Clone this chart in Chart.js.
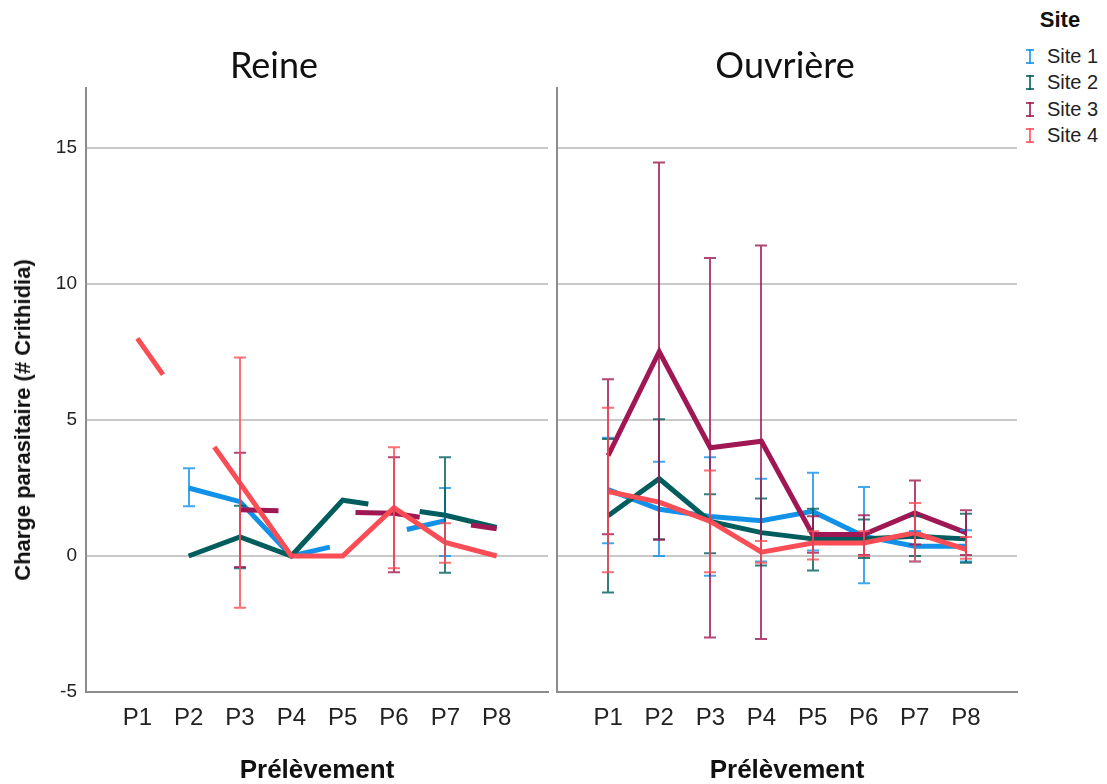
<!DOCTYPE html>
<html lang="fr">
<head>
<meta charset="utf-8">
<title>Charge parasitaire par prélèvement</title>
<script src="https://cdn.jsdelivr.net/npm/chart.js@4.4.1/dist/chart.umd.min.js"></script>
<style>
  html, body { margin: 0; padding: 0; background: #fff; }
  #wrap { position: relative; width: 1107px; height: 784px; overflow: hidden; font-family: "Liberation Sans", Arial, sans-serif; }
  #reine { position: absolute; left: 0; top: 0; }
  #ouvriere { position: absolute; left: 553px; top: 0; }
  .ytitle { position: absolute; left: 23px; top: 420px; transform: translate(-50%, -50%) rotate(-90deg); font-weight: bold; font-size: 22px; white-space: nowrap; color: #111; }
  .ltitle { position: absolute; left: 1060px; top: 20px; transform: translate(-50%, -50%); font-weight: bold; font-size: 22px; color: #111; }
  .litem { position: absolute; left: 1026px; height: 20px; font-size: 20px; line-height: 20px; color: #222; white-space: nowrap; }
  .litem .mk { position: absolute; left: 0; top: 3px; width: 8px; height: 15px; }
  .litem .mk::before { content: ""; position: absolute; left: 0; right: 0; top: 0; bottom: 0; border-top: 2px solid currentColor; border-bottom: 2px solid currentColor; }
  .litem .mk::after { content: ""; position: absolute; left: 3px; width: 2px; top: 0; bottom: 0; background: currentColor; }
  .litem span { position: absolute; left: 21px; top: 0; }
</style>
</head>
<body>
<div id="wrap">
  <canvas id="reine" width="553" height="784"></canvas>
  <canvas id="ouvriere" width="470" height="784"></canvas>
  <div class="ytitle">Charge parasitaire (# Crithidia)</div>
  <div class="ltitle">Site</div>
</div>
<script>
const categories = ["P1", "P2", "P3", "P4", "P5", "P6", "P7", "P8"];
const sites = ["Site 1", "Site 2", "Site 3", "Site 4"];
const siteColors = ["#1192e8", "#005d5d", "#9f1853", "#fa4d56"];
const errColors = ["rgba(17,146,232,0.8)", "rgba(0,93,93,0.8)", "rgba(159,24,83,0.8)", "rgba(250,77,86,0.8)"];
const yTicks = [-5, 0, 5, 10, 15];

// Reine : moyennes et intervalles (null = pas de donnée)
const reineSite1 = [null, 2.5, 2.0, 0, null, null, 1.3, null];
const reineSite1Low = [null, 1.83, null, null, null, null, 0.0, null];
const reineSite1High = [null, 3.23, null, null, null, null, 2.5, null];
const reineSite2 = [null, 0, 0.7, 0, 2.05, null, 1.5, 1.05];
const reineSite2Low = [null, null, -0.45, null, null, null, -0.62, null];
const reineSite2High = [null, null, 1.85, null, null, null, 3.63, null];
const reineSite3 = [null, null, 1.7, null, null, 1.57, null, 1.0];
const reineSite3Low = [null, null, -0.4, null, null, -0.6, null, null];
const reineSite3High = [null, null, 3.8, null, null, 3.63, null, null];
const reineSite4 = [8.0, null, 2.68, 0, 0, 1.78, 0.5, 0];
const reineSite4Low = [null, null, -1.9, null, null, -0.45, -0.25, null];
const reineSite4High = [null, null, 7.3, null, null, 4.0, 1.2, null];

// Ouvrière
const ouvSite1 = [2.44, 1.72, 1.45, 1.3, 1.64, 0.73, 0.36, 0.36];
const ouvSite1Low = [0.47, 0.0, -0.73, -0.2, 0.2, -1.0, -0.2, -0.2];
const ouvSite1High = [4.35, 3.47, 3.63, 2.84, 3.06, 2.54, 0.92, 0.95];
const ouvSite2 = [1.48, 2.84, 1.27, 0.86, 0.63, 0.63, 0.73, 0.63];
const ouvSite2Low = [-1.34, 0.62, 0.1, -0.35, -0.53, -0.07, 0.0, -0.25];
const ouvSite2High = [4.3, 5.03, 2.27, 2.11, 1.74, 1.34, 1.46, 1.55];
const ouvSite3 = [3.69, 7.51, 3.98, 4.22, 0.79, 0.79, 1.58, 0.86];
const ouvSite3Low = [0.8, 0.6, -3.0, -3.05, 0.12, 0.04, 0.42, 0.04];
const ouvSite3High = [6.5, 14.47, 10.96, 11.42, 1.46, 1.5, 2.78, 1.68];
const ouvSite4 = [2.37, 1.98, 1.27, 0.14, 0.48, 0.48, 0.85, 0.24];
const ouvSite4Low = [-0.6, null, -0.6, -0.25, -0.13, 0.0, -0.2, -0.1];
const ouvSite4High = [5.45, null, 3.14, 0.55, 0.91, 0.91, 1.95, 0.7];

const FONT = "'Liberation Sans', Arial, sans-serif";
const GRID = "#c9c9c9";
const AXIS = "#8c8c8c";

// SPSS style: across a missing category only the outer quarters of the link are drawn
function linePoints(means) {
  const pts = [];
  const idx = [];
  means.forEach((v, i) => { if (v !== null) idx.push(i); });
  idx.forEach((i, k) => {
    pts.push({ x: i + 1, y: means[i] });
    const next = idx[k + 1];
    if (next !== undefined && next - i > 1) {
      const span = next - i;
      const q = span / 4;
      const slope = (means[next] - means[i]) / span;
      pts.push({ x: i + 1 + q, y: means[i] + slope * q });
      pts.push({ x: i + 1 + span / 2, y: null });
      pts.push({ x: next + 1 - q, y: means[next] - slope * q });
    }
  });
  return pts;
}

const errorBars = {
  id: "errorBars",
  afterDatasetsDraw(chart) {
    const { ctx, scales: { x, y } } = chart;
    ctx.save();
    ctx.lineWidth = 2;
    chart.data.datasets.forEach(ds => {
      ctx.strokeStyle = ds.errColor;
      ds.errLow.forEach((lo, i) => {
        const hi = ds.errHigh[i];
        if (lo === null || hi === null) return;
        const px = Math.round(x.getPixelForValue(i + 1));
        const top = y.getPixelForValue(hi);
        const bot = y.getPixelForValue(lo);
        ctx.beginPath();
        ctx.moveTo(px, top); ctx.lineTo(px, bot);
        ctx.moveTo(px - 6, top); ctx.lineTo(px + 6, top);
        ctx.moveTo(px - 6, bot); ctx.lineTo(px + 6, bot);
        ctx.stroke();
      });
    });
    ctx.restore();
  }
};

function makeChart(id, title, means, lows, highs, showY) {
  const datasets = sites.map((s, k) => ({
    label: s,
    data: linePoints(means[k]),
    errLow: lows[k],
    errHigh: highs[k],
    errColor: errColors[k],
    borderColor: siteColors[k],
    borderWidth: 5,
    borderJoinStyle: "miter",
    borderCapStyle: "butt",
    pointRadius: 0,
    spanGaps: false,
    tension: 0,
    fill: false,
    order: sites.length - 1 - k
  }));

  new Chart(document.getElementById(id), {
    type: "line",
    data: { datasets },
    plugins: [errorBars],
    options: {
      responsive: false,
      animation: false,
      layout: { padding: { right: showY ? 5 : 6 } },
      plugins: {
        legend: { display: false },
        tooltip: { enabled: false },
        title: {
          display: true,
          text: title,
          color: "#111",
          font: { family: "Lato, 'Open Sans', sans-serif", size: 36, weight: "normal" },
          padding: { top: 45, bottom: 0 }
        }
      },
      scales: {
        x: {
          type: "linear",
          min: 0,
          max: 9,
          afterFit: scale => {
            scale.height = 92;
            scale.paddingLeft = 0;
            scale.paddingRight = 0;
          },
          grid: { display: false, drawTicks: false },
          border: { display: true, color: AXIS, width: 2 },
          ticks: {
            stepSize: 1,
            autoSkip: false,
            maxRotation: 0,
            padding: 12,
            color: "#222",
            font: { family: FONT, size: 24 },
            callback: v => categories[v - 1] || ""
          },
          title: {
            display: true,
            text: "Prélèvement",
            color: "#111",
            font: { family: FONT, size: 26, weight: "bold", lineHeight: 1 },
            padding: { top: 25, bottom: 0 }
          }
        },
        y: {
          min: -5,
          max: 17.2,
          afterFit: scale => { scale.width = showY ? 86 : 4; },
          afterBuildTicks: scale => { scale.ticks = yTicks.map(v => ({ value: v })); },
          border: { display: true, color: AXIS, width: 2 },
          grid: {
            drawTicks: false,
            lineWidth: 2,
            color: c => (c.tick && c.tick.value > -5 ? GRID : "rgba(0,0,0,0)")
          },
          ticks: {
            display: showY,
            padding: 9,
            color: "#222",
            font: { family: FONT, size: 19 }
          }
        }
      }
    }
  });
}

makeChart("reine", "Reine",
  [reineSite1, reineSite2, reineSite3, reineSite4],
  [reineSite1Low, reineSite2Low, reineSite3Low, reineSite4Low],
  [reineSite1High, reineSite2High, reineSite3High, reineSite4High], true);

makeChart("ouvriere", "Ouvrière",
  [ouvSite1, ouvSite2, ouvSite3, ouvSite4],
  [ouvSite1Low, ouvSite2Low, ouvSite3Low, ouvSite4Low],
  [ouvSite1High, ouvSite2High, ouvSite3High, ouvSite4High], false);

// légende
const wrap = document.getElementById("wrap");
sites.forEach((s, k) => {
  const item = document.createElement("div");
  item.className = "litem";
  item.style.top = (46 + k * 26.3) + "px";
  item.innerHTML = '<div class="mk" style="color:' + errColors[k] + '"></div><span>' + s + "</span>";
  wrap.appendChild(item);
});
</script>
</body>
</html>
